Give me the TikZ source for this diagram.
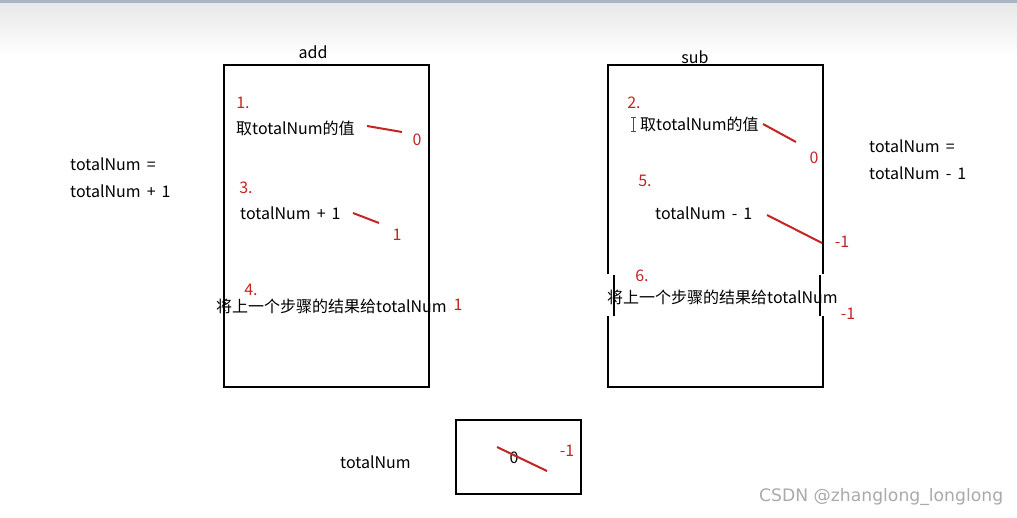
\documentclass[tikz,border=0pt]{standalone}
\usepackage{fontspec}
\setmainfont{Noto Sans CJK SC}[WordSpace=1.7]
\newfontfamily\wmfont{DejaVu Sans}
\definecolor{myred}{RGB}{196,36,36}
\definecolor{topline}{RGB}{170,180,198}
\definecolor{bandgray}{RGB}{232,232,232}
\definecolor{wmgray}{RGB}{170,170,170}
\tikzset{
  txt/.style={inner sep=0pt, anchor=west, font=\fontsize{16}{19}\selectfont},
  num/.style={inner sep=0pt, anchor=center, text=myred, font=\fontsize{16}{19}\selectfont},
  box/.style={draw=black, line width=2pt, fill=none},
  strike/.style={draw=myred, line width=2pt},
}
\begin{document}
\begin{tikzpicture}[x=1pt,y=-1pt]
\useasboundingbox (0,0) rectangle (1017,517);
\fill[white] (0,0) rectangle (1017,517);
% top band
\shade[top color=bandgray, bottom color=white] (0,3) rectangle (1017,56);
\fill[topline] (0,0) rectangle (1017,3);

% add box
\node[inner sep=0pt, font=\fontsize{16}{19}\selectfont] (addlbl) at (313,52) {add};
\draw[box] (224,65) rectangle (429,387);
\node[num] (n1) at (243,103) {1.};
\node[txt] (a1) at (236,128) {取totalNum的值};
\coordinate (a1s) at (367,126);
\coordinate (a1e) at (402,132);
\draw[strike] (a1s) -- (a1e);
\node[num] (v1) at (417,140) {0};
\node[num] (n3) at (246,188) {3.};
\node[txt] (a3) at (240,213) {totalNum + 1};
\coordinate (a3s) at (353,213);
\coordinate (a3e) at (379,223);
\draw[strike] (a3s) -- (a3e);
\node[num] (v3) at (397,235) {1};
\node[num] (n4) at (251,290) {4.};
\node[txt] (a4) at (216,306) {将上一个步骤的结果给totalNum};
\node[num] (v4) at (458,305) {1};

% left text
\node[txt] (l1) at (70,164) {totalNum =};
\node[txt] (l2) at (70,191) {totalNum + 1};

% sub box
\node[inner sep=0pt, font=\fontsize{16}{19}\selectfont] (sublbl) at (695,57) {sub};
\draw[box] (608,274) -- (608,65) -- (823,65) -- (823,274);
\draw[box] (608,316) -- (608,387) -- (823,387) -- (823,316);
\draw[line width=2.5pt] (614,275) -- (614,316);
\draw[line width=2.5pt] (820,275) -- (820,316);
\node[num] (n2) at (634,103) {2.};
% I-beam cursor
\draw[line width=0.8pt, black!70] (633.5,117) -- (633.5,131) (631,117) -- (636,117) (631,131) -- (636,131);
\node[txt] (s1) at (640,124) {取totalNum的值};
\coordinate (s1s) at (763,124);
\coordinate (s1e) at (796,142);
\draw[strike] (s1s) -- (s1e);
\node[num] (w1) at (814,158) {0};
\node[num] (n5) at (645,181) {5.};
\node[txt] (s2) at (655,213) {totalNum - 1};
\coordinate (s2s) at (767,215);
\coordinate (s2e) at (822,243);
\draw[strike] (s2s) -- (s2e);
\node[num] (w2) at (842,242) {-1};
\node[num] (n6) at (642,276) {6.};
\node[txt] (s3) at (607,297) {将上一个步骤的结果给totalNum};
\node[num] (w3) at (848,314) {-1};

% right text
\node[txt] (r1) at (869,146) {totalNum =};
\node[txt] (r2) at (869,173) {totalNum - 1};

% bottom variable box
\node[txt] (varlbl) at (340,462) {totalNum};
\draw[box] (456,420) rectangle (581,494);
\node[inner sep=0pt, font=\fontsize{16}{19}\selectfont] (v0) at (514,458) {0};
\coordinate (bs) at (497,447);
\coordinate (be) at (547,471);
\draw[strike] (bs) -- (be);
\node[num] (vm) at (567,451) {-1};

% watermark
\node[inner sep=0pt, anchor=west, text=wmgray, font=\wmfont\fontsize{17.2}{20}\selectfont] (wm) at (759,497) {CSDN @zhanglong\_longlong};
\end{tikzpicture}
\end{document}
